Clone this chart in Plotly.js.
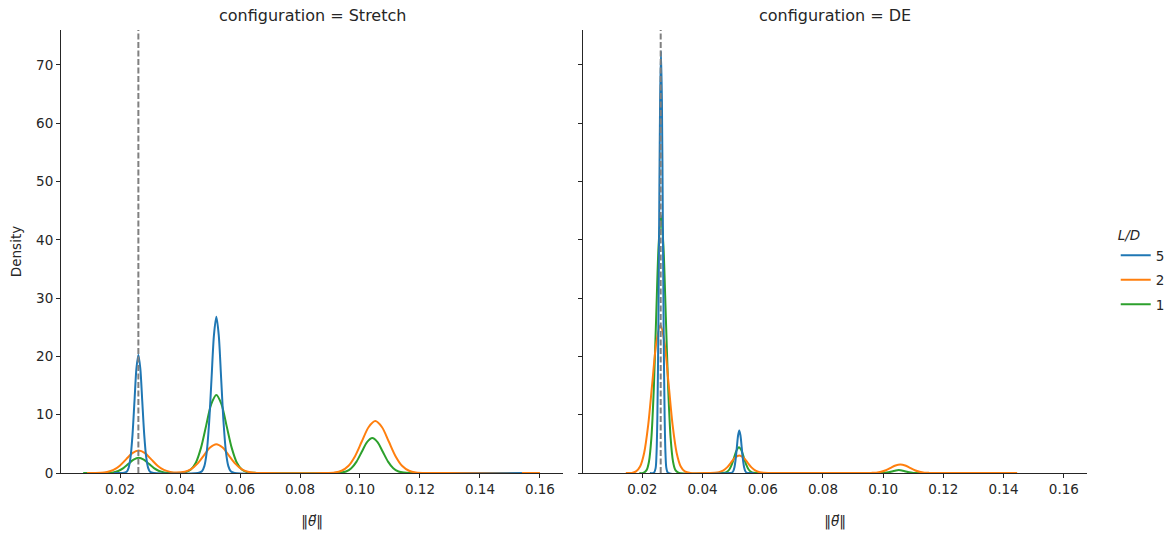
<!DOCTYPE html>
<html>
<head>
<meta charset="utf-8">
<script src="https://cdn.plot.ly/plotly-3.0.1.min.js"></script>
<style>html,body{margin:0;padding:0;background:#fff;}#chart{width:1173px;height:539px;}</style>
</head>
<body>
<div id="chart"></div>
<script>
// ---- Data (KDE curves, density vs ||theta||) ----
const facetTitles = ["configuration = Stretch", "configuration = DE"];
const hueLevels = ["5", "2", "1"];
const hueColors = ["#1f77b4", "#ff7f0e", "#2ca02c"];
const refLine = 0.0261;
const xTickVals = [0.02, 0.04, 0.06, 0.08, 0.10, 0.12, 0.14, 0.16];
const xTickText = ["0.02", "0.04", "0.06", "0.08", "0.10", "0.12", "0.14", "0.16"];
const yTickVals = [0, 10, 20, 30, 40, 50, 60, 70];

// Stretch, L/D = 5
const stretch5_x = [0.0180, 0.0210,
  0.0222, 0.02285, 0.0235, 0.02415, 0.0248, 0.02545, 0.0261, 0.02675, 0.0274, 0.02805, 0.0287, 0.02935, 0.0300,
  0.0312, 0.0460,
  0.0473, 0.0481, 0.0489, 0.0497, 0.0505, 0.0513, 0.0521, 0.0529, 0.0537, 0.0545, 0.0553, 0.0561, 0.0569,
  0.0582, 0.1540];
const stretch5_y = [0, 0.01,
  0.23, 0.89, 2.75, 6.59, 12.31, 17.91, 20.3, 17.91, 12.31, 6.59, 2.75, 0.89, 0.23,
  0.01, 0.01,
  0.30, 1.18, 3.63, 8.70, 16.25, 23.65, 26.8, 23.65, 16.25, 8.70, 3.63, 1.18, 0.30,
  0.01, 0];

// Stretch, L/D = 2
const stretch2_x = [0.0090, 0.0115,
  0.0136, 0.0157, 0.0178, 0.0199, 0.0220, 0.0241, 0.0262, 0.0283, 0.0304, 0.0325, 0.0346, 0.0367, 0.0388,
  0.0416, 0.0437, 0.0458, 0.0479, 0.0500, 0.0521, 0.0542, 0.0563, 0.0584, 0.0605, 0.0626, 0.0647,
  0.0680, 0.0880,
  0.0916, 0.09385, 0.0961, 0.09835, 0.1006, 0.10285, 0.1051, 0.10735, 0.1096, 0.11185, 0.1141, 0.11635, 0.1186,
  0.1230, 0.1600];
const stretch2_y = [0, 0.01,
  0.04, 0.17, 0.52, 1.25, 2.34, 3.40, 3.85, 3.40, 2.34, 1.25, 0.52, 0.19, 0.09,
  0.22, 0.67, 1.61, 3.00, 4.37, 4.95, 4.37, 3.00, 1.61, 0.67, 0.22, 0.05,
  0.01, 0.01,
  0.10, 0.39, 1.20, 2.89, 5.40, 7.85, 8.9, 7.85, 5.40, 2.89, 1.20, 0.39, 0.10,
  0.01, 0];

// Stretch, L/D = 1
const stretch1_x = [0.0077, 0.0135,
  0.0160, 0.0177, 0.0194, 0.0211, 0.0228, 0.0245, 0.0262, 0.0279, 0.0296, 0.0313, 0.0330, 0.0347, 0.0364,
  0.0392,
  0.0419, 0.0436, 0.0453, 0.0470, 0.0487, 0.0504, 0.0521, 0.0538, 0.0555, 0.0572, 0.0589, 0.0606, 0.0623,
  0.0655, 0.0905,
  0.0936, 0.09535, 0.0971, 0.09885, 0.1006, 0.10235, 0.1041, 0.10585, 0.1076, 0.10935, 0.1111, 0.11285, 0.1146,
  0.1175, 0.1200];
const stretch1_y = [0, 0.01,
  0.03, 0.11, 0.35, 0.84, 1.58, 2.29, 2.6, 2.29, 1.58, 0.84, 0.35, 0.11, 0.03,
  0.01,
  0.15, 0.59, 1.81, 4.35, 8.13, 11.83, 13.4, 11.83, 8.13, 4.35, 1.81, 0.59, 0.15,
  0.01, 0.01,
  0.07, 0.26, 0.81, 1.95, 3.64, 5.30, 6.0, 5.30, 3.64, 1.95, 0.81, 0.26, 0.07,
  0.01, 0];

// DE, L/D = 5
const de5_x = [0.0225, 0.0238,
  0.0244, 0.0247, 0.0250, 0.0253, 0.0256, 0.0259, 0.0262, 0.0265, 0.0268, 0.0271, 0.0274, 0.0277, 0.0280,
  0.0286, 0.0490,
  0.0498, 0.0502, 0.0506, 0.0510, 0.0514, 0.0518, 0.0522, 0.0526, 0.0530, 0.0534, 0.0538, 0.0542, 0.0546,
  0.0554, 0.0570];
const de5_y = [0, 0.01,
  0.80, 3.18, 9.80, 23.51, 43.91, 63.89, 72.4, 63.89, 43.91, 23.51, 9.80, 3.18, 0.80,
  0.01, 0.01,
  0.08, 0.32, 0.99, 2.37, 4.43, 6.44, 7.3, 6.44, 4.43, 2.37, 0.99, 0.32, 0.08,
  0.01, 0];

// DE, L/D = 2
const de2_x = [0.0145, 0.0165,
  0.0179, 0.01925, 0.0206, 0.02195, 0.0233, 0.02465, 0.0260, 0.02735, 0.0287, 0.03005, 0.0314, 0.03275, 0.0341,
  0.0360, 0.0420,
  0.0441, 0.04545, 0.0468, 0.04815, 0.0495, 0.05085, 0.0522, 0.05355, 0.0549, 0.05625, 0.0576, 0.05895, 0.0603,
  0.0625, 0.0940,
  0.0961, 0.0977, 0.0993, 0.1009, 0.1025, 0.1041, 0.1057, 0.1073, 0.1089, 0.1105, 0.1121, 0.1137, 0.1153,
  0.1175, 0.1445];
const de2_y = [0, 0.01,
  0.28, 1.12, 3.44, 8.25, 15.41, 22.42, 25.4, 22.42, 15.41, 8.25, 3.44, 1.12, 0.28,
  0.01, 0.01,
  0.03, 0.13, 0.41, 0.97, 1.82, 2.65, 3.0, 2.65, 1.82, 0.97, 0.41, 0.13, 0.03,
  0.01, 0.01,
  0.02, 0.06, 0.20, 0.47, 0.88, 1.28, 1.45, 1.28, 0.88, 0.47, 0.20, 0.06, 0.02,
  0.01, 0];

// DE, L/D = 1
const de1_x = [0.0190, 0.0203,
  0.0214, 0.0222, 0.0230, 0.0238, 0.0246, 0.0254, 0.0262, 0.0270, 0.0278, 0.0286, 0.0294, 0.0302, 0.0310,
  0.0322, 0.0460,
  0.0473, 0.0481, 0.0489, 0.0497, 0.0505, 0.0513, 0.0521, 0.0529, 0.0537, 0.0545, 0.0553, 0.0561, 0.0569,
  0.0582, 0.0980,
  0.0992, 0.1002, 0.1012, 0.1022, 0.1032, 0.1042, 0.1052, 0.1062, 0.1072, 0.1082, 0.1092, 0.1102, 0.1112,
  0.1130];
const de1_y = [0, 0.01,
  0.49, 1.94, 5.98, 14.35, 26.81, 39.01, 44.2, 39.01, 26.81, 14.35, 5.98, 1.94, 0.49,
  0.01, 0.01,
  0.05, 0.19, 0.60, 1.43, 2.67, 3.88, 4.4, 3.88, 2.67, 1.43, 0.60, 0.19, 0.05,
  0.01, 0.01,
  0.01, 0.02, 0.07, 0.16, 0.30, 0.44, 0.5, 0.44, 0.30, 0.16, 0.07, 0.02, 0.01,
  0];

// ---- Build traces ----
const panels = [
  {xa: "x", ya: "y", series: [[stretch5_x, stretch5_y], [stretch2_x, stretch2_y], [stretch1_x, stretch1_y]]},
  {xa: "x2", ya: "y2", series: [[de5_x, de5_y], [de2_x, de2_y], [de1_x, de1_y]]}
];
const traces = [];
panels.forEach((p, pi) => {
  // draw L/D=1 first, L/D=5 last (on top)
  for (let h = hueLevels.length - 1; h >= 0; h--) {
    traces.push({
      type: "scatter", mode: "lines",
      x: p.series[h][0], y: p.series[h][1],
      xaxis: p.xa, yaxis: p.ya,
      name: hueLevels[h], legendgroup: "g" + hueLevels[h], legendrank: h + 1,
      showlegend: pi === 0,
      line: {color: hueColors[h], width: 2, shape: "spline", smoothing: 0.8},
      hoverinfo: "skip"
    });
  }
});

const font = {family: "DejaVu Sans, sans-serif", size: 13.5, color: "#262626"};
const titleFont = {family: "DejaVu Sans, sans-serif", size: 16, color: "#262626"};
const xCommon = {
  range: [0.0003, 0.1677], tickvals: xTickVals, ticktext: xTickText,
  showline: true, linecolor: "#262626", linewidth: 1, mirror: false,
  ticks: "outside", ticklen: 4, tickwidth: 1, tickcolor: "#262626",
  showgrid: false, zeroline: false, tickfont: font,
  title: {text: "‖<i>θ\u20D7</i>‖", font: font, standoff: 20}
};
const yCommon = {
  range: [0, 76], tickvals: yTickVals,
  showline: true, linecolor: "#262626", linewidth: 1,
  ticks: "outside", ticklen: 4, tickwidth: 1, tickcolor: "#262626",
  showgrid: false, zeroline: false, tickfont: font
};

const layout = {
  width: 1173, height: 539,
  margin: {l: 61, r: 86, t: 30, b: 66, autoexpand: false},
  paper_bgcolor: "#fff", plot_bgcolor: "#fff",
  font: font,
  showlegend: true,
  legend: {
    x: 1.028, y: 0.455, xanchor: "left", yanchor: "middle",
    title: {text: "<i>L/D</i>", font: font, side: "top"},
    font: font, bgcolor: "rgba(0,0,0,0)", traceorder: "grouped",
    tracegroupgap: 4
  },
  xaxis: Object.assign({}, xCommon, {domain: [0, 0.4893], anchor: "y"}),
  xaxis2: Object.assign({}, xCommon, {domain: [0.5088, 1], anchor: "y2"}),
  yaxis: Object.assign({}, yCommon, {domain: [0, 1], anchor: "x",
    title: {text: "Density", font: font, standoff: 11}}),
  yaxis2: Object.assign({}, yCommon, {domain: [0, 1], anchor: "x2", matches: "y", showticklabels: false}),
  shapes: [
    {type: "line", xref: "x", yref: "y domain", x0: refLine, x1: refLine, y0: 0, y1: 1,
     line: {color: "#808080", width: 2, dash: "6px,2.5px"}, layer: "above"},
    {type: "line", xref: "x2", yref: "y2 domain", x0: refLine, x1: refLine, y0: 0, y1: 1,
     line: {color: "#808080", width: 2, dash: "6px,2.5px"}, layer: "above"}
  ],
  annotations: [
    {text: facetTitles[0], xref: "x domain", yref: "paper", x: 0.5, y: 1, yshift: 15,
     xanchor: "center", yanchor: "middle", showarrow: false, font: titleFont},
    {text: facetTitles[1], xref: "x2 domain", yref: "paper", x: 0.5, y: 1, yshift: 15,
     xanchor: "center", yanchor: "middle", showarrow: false, font: titleFont}
  ]
};

Plotly.newPlot("chart", traces, layout, {staticPlot: true, displayModeBar: false});
</script>
</body>
</html>
